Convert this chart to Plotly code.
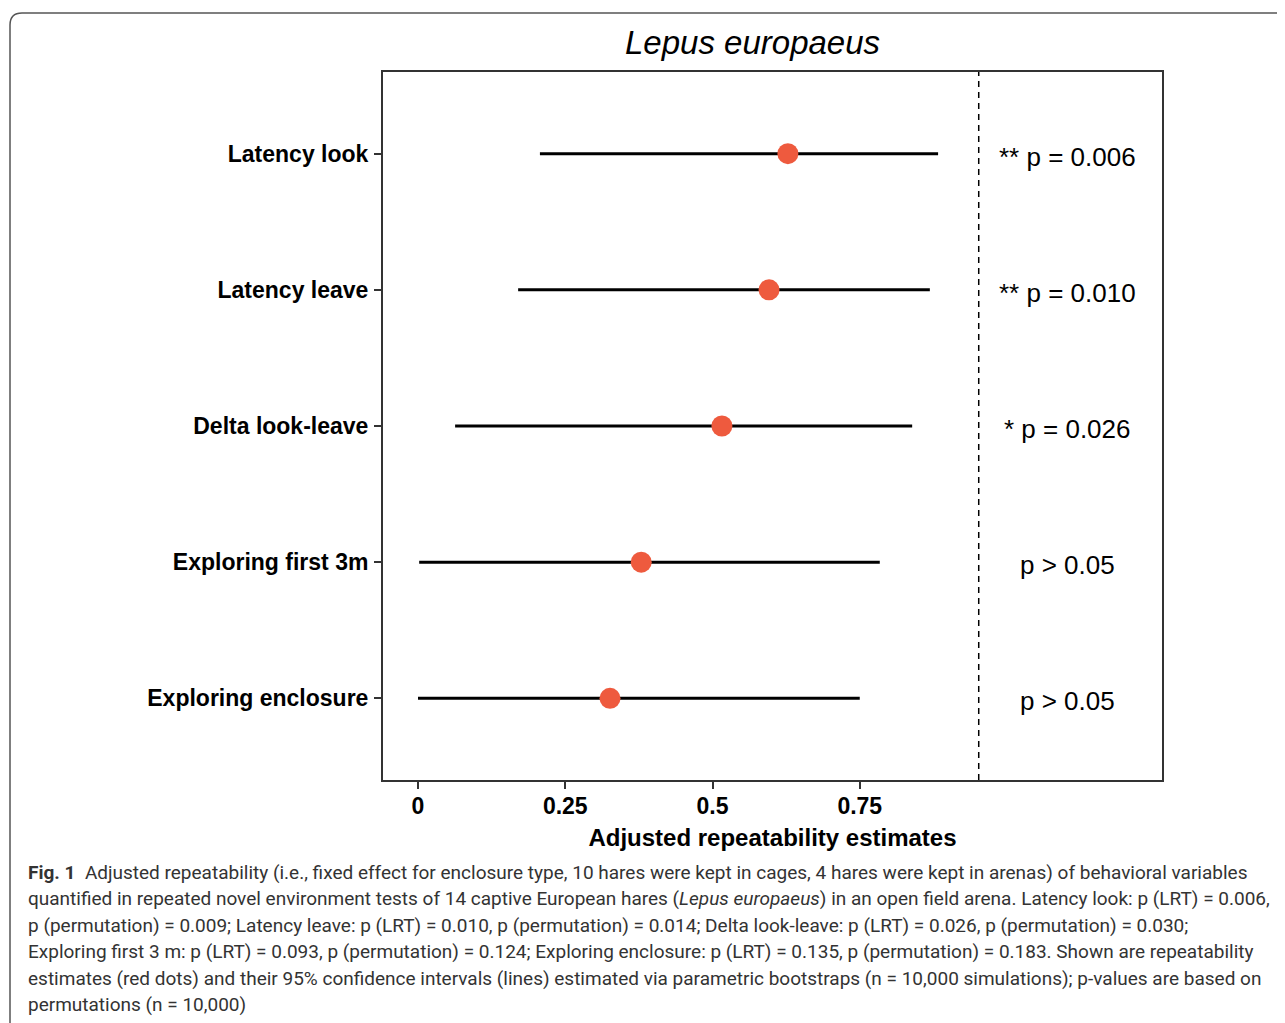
import plotly.graph_objects as go

# ---- data ----
variables = ["Latency look", "Latency leave", "Delta look-leave", "Exploring first 3m", "Exploring enclosure"]
estimates = [0.628, 0.596, 0.516, 0.379, 0.326]
ci_low = [0.207, 0.170, 0.063, 0.002, 0.000]
ci_high = [0.883, 0.869, 0.839, 0.784, 0.750]
p_labels = ["** p = 0.006", "** p = 0.010", "* p = 0.026", "p > 0.05", "p > 0.05"]
x_ticks = [0, 0.25, 0.5, 0.75]
x_tick_text = ["0", "0.25", "0.5", "0.75"]
ref_line = 0.952
p_text_x = 1.102

caption_lines = [
    "<b>Fig. 1</b>  Adjusted repeatability (i.e., fixed effect for enclosure type, 10 hares were kept in cages, 4 hares were kept in arenas) of behavioral variables",
    "quantified in repeated novel environment tests of 14 captive European hares (<i>Lepus europaeus</i>) in an open field arena. Latency look: p (LRT) = 0.006,",
    "p (permutation) = 0.009; Latency leave: p (LRT) = 0.010, p (permutation) = 0.014; Delta look-leave: p (LRT) = 0.026, p (permutation) = 0.030;",
    "Exploring first 3 m: p (LRT) = 0.093, p (permutation) = 0.124; Exploring enclosure: p (LRT) = 0.135, p (permutation) = 0.183. Shown are repeatability",
    "estimates (red dots) and their 95% confidence intervals (lines) estimated via parametric bootstraps (n = 10,000 simulations); p-values are based on",
    "permutations (n = 10,000)",
]

OFF = 8  # page body margin
W, H = 1285 - OFF, 1023 - OFF


def px(x):
    return (x - OFF) / W


def py(y):
    return 1 - (y - OFF) / H


fig = go.Figure()

fig.add_trace(go.Scatter(
    x=estimates, y=variables, mode="markers",
    marker=dict(color="#EE5A3E", size=21, line=dict(width=0)),
    error_x=dict(type="data", symmetric=False,
                 array=[h - e for h, e in zip(ci_high, estimates)],
                 arrayminus=[e - l for e, l in zip(estimates, ci_low)],
                 color="black", thickness=3, width=0),
    showlegend=False, hoverinfo="skip",
))

for v, lab in zip(variables, p_labels):
    fig.add_annotation(
        x=p_text_x, y=v, xref="x", yref="y", text=lab, showarrow=False,
        xanchor="center", yanchor="middle", yshift=-3,
        font=dict(family="Liberation Sans, Arial", size=26, color="black"),
    )

fig.add_vline(x=ref_line, line=dict(color="black", width=1.5, dash="6px,5px"))

fig.update_layout(
    width=W, height=H,
    margin=dict(l=0, r=0, t=0, b=0),
    paper_bgcolor="white", plot_bgcolor="white",
    xaxis=dict(
        domain=[px(383), px(1162)],
        range=[-35 / 589, 744 / 589],
        tickvals=x_ticks, ticktext=x_tick_text,
        ticks="outside", ticklen=7, tickwidth=2, tickcolor="#333333",
        showline=True, linecolor="#333333", linewidth=2, mirror=True,
        showgrid=False, zeroline=False,
        ticklabelstandoff=-3,
        tickfont=dict(family="Liberation Sans Narrow, Arial Narrow, Liberation Sans", size=23, color="black", weight="bold"),
        title=dict(text="<b>Adjusted repeatability estimates</b>",
                   font=dict(family="Liberation Sans Narrow, Arial Narrow, Liberation Sans", size=24, color="black"),
                   standoff=12),
    ),
    yaxis=dict(
        domain=[py(780), py(72)],
        type="category",
        categoryorder="array", categoryarray=variables[::-1],
        range=[-0.6, 4.6],
        ticks="outside", ticklen=7, tickwidth=2, tickcolor="#333333",
        showline=True, linecolor="#333333", linewidth=2, mirror=True,
        showgrid=False, zeroline=False,
        tickfont=dict(family="Liberation Sans, Arial", size=23, color="black", weight="bold"),
        ticklabelstandoff=1,
    ),
)

# Title
fig.add_annotation(
    x=px(752), y=py(42), xref="paper", yref="paper",
    text="<i>Lepus europaeus</i>", showarrow=False,
    xanchor="center", yanchor="middle",
    font=dict(family="Liberation Sans, Arial", size=33, color="black"),
)

# Caption lines
cap_y = [872, 898, 925, 951, 978, 1004]
for line, yv in zip(caption_lines, cap_y):
    fig.add_annotation(
        x=px(26), y=py(yv), xref="paper", yref="paper",
        text=line, showarrow=False, xanchor="left", yanchor="middle",
        font=dict(family="Roboto, Noto Sans", size=19, color="#333333"),
    )

# Outer rounded frame
r = 12
path = (f"M {px(10)},{py(1040)} L {px(10)},{py(13 + r)} "
        f"Q {px(10)},{py(13)} {px(10 + r)},{py(13)} L {px(1300)},{py(13)}")
fig.add_shape(type="path", path=path, xref="paper", yref="paper",
              line=dict(color="#555555", width=1.5))

fig.write_html("out.html")
